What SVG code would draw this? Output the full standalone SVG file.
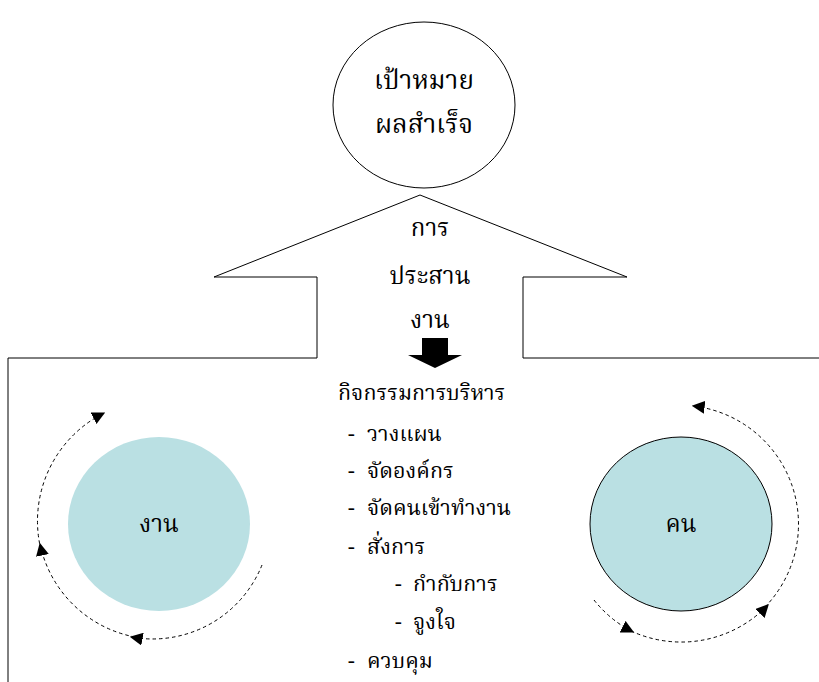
<svg xmlns="http://www.w3.org/2000/svg" width="819" height="682" viewBox="0 0 819 682">
<defs>
<style>
.t{font-family:"Noto Serif Thai","Noto Sans Thai","Liberation Serif",serif;fill:#000;}
.big{font-size:26px;}
.mid{font-size:24px;}
.lst{font-size:21.5px;}
.ln{fill:none;stroke:#000;stroke-width:1;}
.arc{fill:none;stroke:#000;stroke-width:1;stroke-dasharray:3.5,3;marker-end:url(#ah);}
</style>
<marker id="ah" viewBox="0 0 10 10" refX="9" refY="5" markerWidth="13" markerHeight="13" markerUnits="userSpaceOnUse" orient="auto">
<path d="M0,0 L10,5 L0,10 z" fill="#000"/>
</marker>
</defs>
<rect width="819" height="682" fill="#fff"/>
<g id="goal">
<ellipse cx="424" cy="105" rx="91" ry="83" class="ln"/>
<text class="t big" x="424" y="89" text-anchor="middle">เป้าหมาย</text>
<text class="t big" x="424" y="133" text-anchor="middle">ผลสำเร็จ</text>
</g>
<g id="house">
<path class="ln" d="M8,682 L8,358 L317,358 L317,277 L214,277 L420,195 L627,277 L523,277 L523,358 L819,358"/>
<text class="t mid" x="430" y="236" text-anchor="middle">การ</text>
<text class="t mid" x="430" y="284" text-anchor="middle">ประสาน</text>
<text class="t mid" x="430" y="328" text-anchor="middle">งาน</text>
<path d="M422,338 L448,338 L448,355 L462,355 L435,368 L408,355 L422,355 z" fill="#000"/>
</g>
<g id="activities">
<text class="t lst" x="338" y="400">กิจกรรมการบริหาร</text>
<text class="t lst" y="441"><tspan x="348">-</tspan><tspan x="367">วางแผน</tspan></text>
<text class="t lst" y="478"><tspan x="348">-</tspan><tspan x="367">จัดองค์กร</tspan></text>
<text class="t lst" y="515"><tspan x="348">-</tspan><tspan x="367">จัดคนเข้าทำงาน</tspan></text>
<text class="t lst" y="554"><tspan x="348">-</tspan><tspan x="367">สั่งการ</tspan></text>
<text class="t lst" y="591"><tspan x="395">-</tspan><tspan x="413">กำกับการ</tspan></text>
<text class="t lst" y="629"><tspan x="395">-</tspan><tspan x="413">จูงใจ</tspan></text>
<text class="t lst" y="668"><tspan x="348">-</tspan><tspan x="367">ควบคุม</tspan></text>
</g>
<g id="work">
<ellipse cx="159" cy="524" rx="91" ry="87" fill="#bae0e3"/>
<text class="t mid" x="159" y="532" text-anchor="middle">งาน</text>
</g>
<g id="people">
<ellipse cx="681" cy="524" rx="91" ry="87" fill="#bae0e3" stroke="#000" stroke-width="1"/>
<text class="t mid" x="681" y="532" text-anchor="middle">คน</text>
</g>
<g id="connectors">
<path class="arc" d="M262,565 A118,118 0 0 1 131,637"/>
<path class="arc" d="M135,637 A120,120 0 0 1 40,544"/>
<path class="arc" d="M41,550 A121,121 0 0 1 104,413"/>
<path class="arc" d="M594,600 A118,118 0 0 0 633,632"/>
<path class="arc" d="M631,631 A120,120 0 0 0 768,605"/>
<path class="arc" d="M765,607 A119,119 0 0 0 693,406"/>
</g>
</svg>
